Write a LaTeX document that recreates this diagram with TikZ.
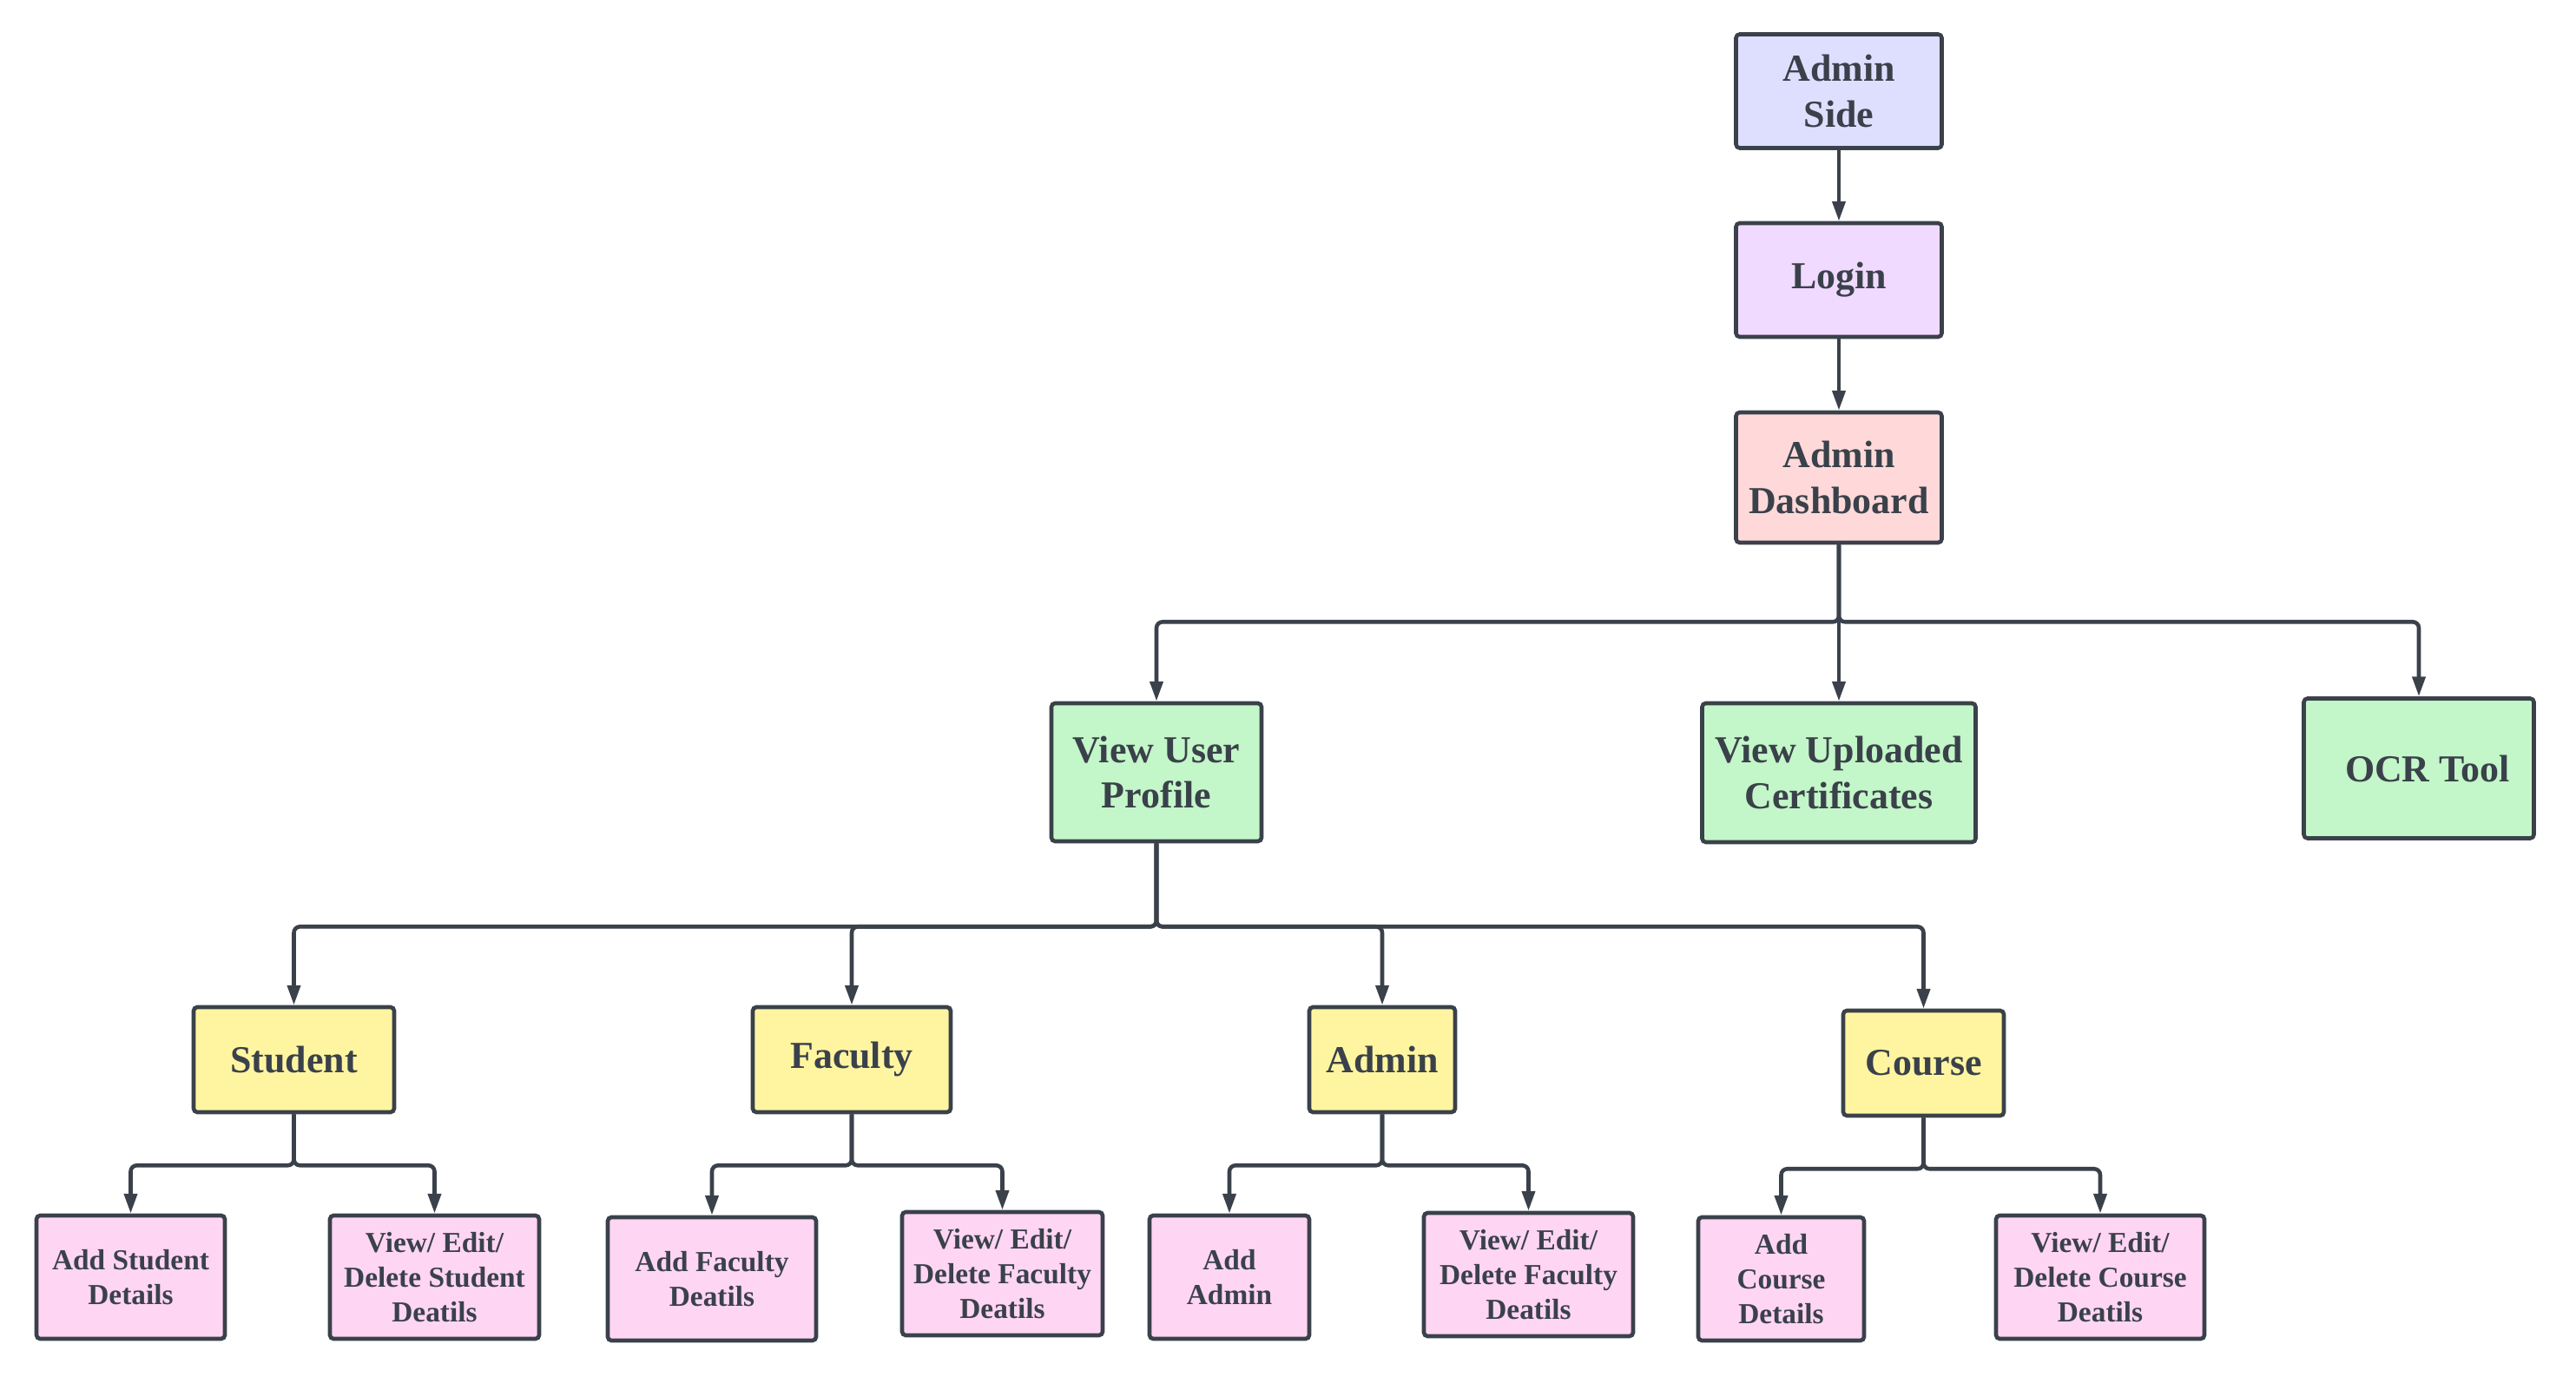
\documentclass[tikz,border=0pt]{standalone}
\usepackage{fontspec}
\setmainfont{Liberation Serif}
\usetikzlibrary{arrows.meta,positioning}
\definecolor{ink}{HTML}{3A414A}
\definecolor{lavfill}{HTML}{DEDFFF}
\definecolor{loginfill}{HTML}{F1DAFF}
\definecolor{dashfill}{HTML}{FFD9D9}
\definecolor{greenfill}{HTML}{C3F6C8}
\definecolor{yellowfill}{HTML}{FFF5A1}
\definecolor{pinkfill}{HTML}{FFD5F4}

\begin{document}
\begin{tikzpicture}[
    box/.style={draw=ink, line width=1.3pt, rounded corners=1.2pt, align=center,
        text=ink, inner sep=0pt, font=\bfseries\fontsize{12.5}{15}\selectfont},
    leaf/.style={box, fill=pinkfill, minimum height=1.42cm,
        font=\bfseries\fontsize{9.5}{11.4}\selectfont},
    conn/.style={draw=ink, line width=1.3pt, rounded corners=2pt,
        -{Triangle[length=6.5pt,width=4.2pt]}},
    ]
\useasboundingbox (0,0) rectangle (29.67,-15.86);

% top chain
\node[box, fill=lavfill, minimum width=2.37cm, minimum height=1.31cm] (side) at (21.18,-1.05) {Admin\\Side};
\node[box, fill=loginfill, minimum width=2.37cm, minimum height=1.31cm] (login) at (21.18,-3.225) {Login};
\node[box, fill=dashfill, minimum width=2.37cm, minimum height=1.50cm] (dash) at (21.18,-5.50) {Admin\\Dashboard};

% second level
\node[box, fill=greenfill, minimum width=2.42cm, minimum height=1.59cm] (vup) at (13.32,-8.895) {View User\\Profile};
\node[box, fill=greenfill, minimum width=3.15cm, minimum height=1.60cm] (vuc) at (21.18,-8.90) {View Uploaded\\Certificates};
\node[box, fill=greenfill, minimum width=2.65cm, minimum height=1.61cm] (ocr) at (27.86,-8.85) {\hspace{0.2cm}OCR Tool};

% third level
\node[box, fill=yellowfill, minimum width=2.31cm, minimum height=1.21cm] (student) at (3.385,-12.205) {Student};
\node[box, fill=yellowfill, minimum width=2.28cm, minimum height=1.21cm] (faculty) at (9.81,-12.205) {Faculty};
\node[box, fill=yellowfill, minimum width=1.68cm, minimum height=1.21cm] (admin) at (15.92,-12.205) {Admin};
\node[box, fill=yellowfill, minimum width=1.85cm, minimum height=1.21cm] (course) at (22.155,-12.245) {Course};

% leaves
\node[leaf, minimum width=2.17cm] (addst) at (1.505,-14.71) {Add Student\\Details};
\node[leaf, minimum width=2.41cm] (edst) at (5.005,-14.71) {View/ Edit/\\Delete Student\\Deatils};
\node[leaf, minimum width=2.40cm] (addfa) at (8.20,-14.73) {Add Faculty\\Deatils};
\node[leaf, minimum width=2.31cm] (edfa) at (11.545,-14.67) {View/ Edit/\\Delete Faculty\\Deatils};
\node[leaf, minimum width=1.84cm] (addad) at (14.16,-14.71) {Add\\Admin};
\node[leaf, minimum width=2.41cm] (edad) at (17.605,-14.68) {View/ Edit/\\Delete Faculty\\Deatils};
\node[leaf, minimum width=1.91cm] (addco) at (20.515,-14.73) {Add\\Course\\Details};
\node[leaf, minimum width=2.40cm] (edco) at (24.19,-14.71) {View/ Edit/\\Delete Course\\Deatils};

% connectors
\draw[conn] (side) -- (login);
\draw[conn] (login) -- (dash);
\draw[conn] (dash) -- (vuc);
\foreach \t in {vup,ocr}
    \draw[conn] (dash.south) -- ++(0,-0.89) -| (\t.north);
\foreach \t in {student,faculty,admin,course}
    \draw[conn] (vup.south) -- ++(0,-0.96) -| (\t.north);
\foreach \p/\c in {student/addst,student/edst,faculty/addfa,faculty/edfa,
    admin/addad,admin/edad,course/addco,course/edco}
    \draw[conn] (\p.south) -- ++(0,-0.59) -| (\c.north);

\end{tikzpicture}
\end{document}
